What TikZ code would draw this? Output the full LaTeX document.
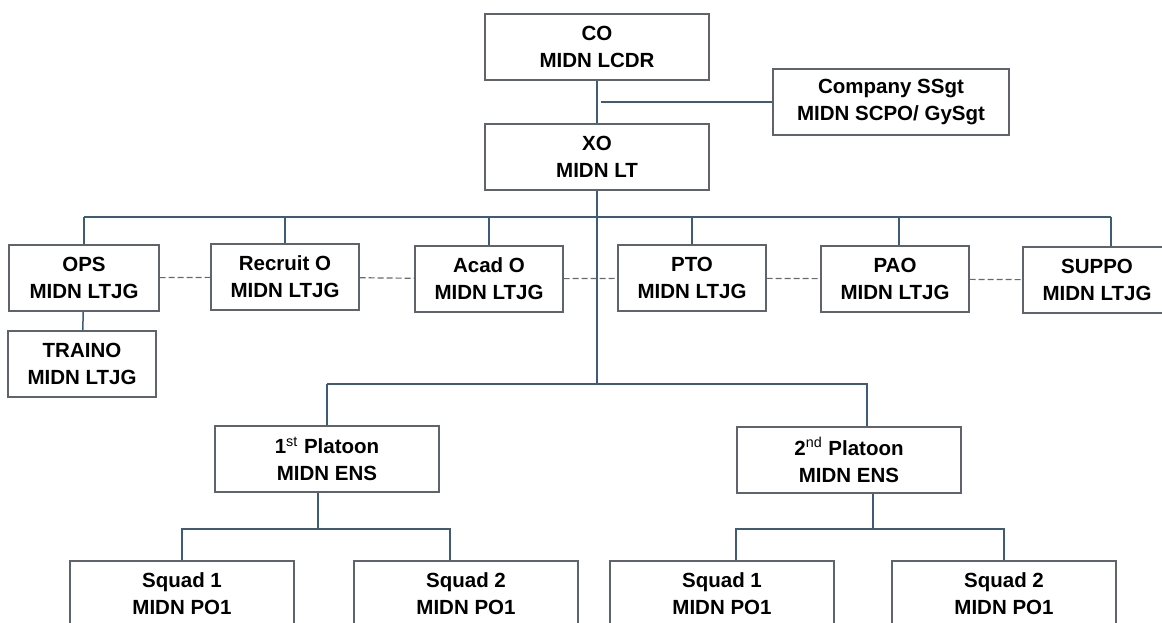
\documentclass[tikz,border=0pt]{standalone}
\usepackage{fontspec}
\setmainfont{Liberation Sans}
\usetikzlibrary{positioning,calc}

\definecolor{linkblue}{RGB}{62,92,118}
\definecolor{boxgray}{RGB}{95,100,108}
\definecolor{dashgray}{RGB}{105,105,105}

\tikzset{
  post/.style={draw=boxgray, line width=0.6pt, fill=white, align=center,
    inner sep=0pt, minimum width=74pt, minimum height=33pt,
    font=\bfseries\fontsize{10.25}{13.5}\selectfont},
  widepost/.style={post, minimum width=112pt},
  link/.style={draw=linkblue, line width=0.75pt},
  peer/.style={draw=dashgray, line width=0.6pt, dash pattern=on 3pt off 1.5pt}
}

\newcommand{\ordinal}[1]{\textsuperscript{\mdseries #1}}

\begin{document}
\begin{tikzpicture}[x=0.5pt, y=-0.5pt]

    \useasboundingbox (0,0) rectangle (1162,622);
    \clip (0,0) rectangle (1162,622);

    % command
    \node [widepost] (co) at (597,47) {CO\\MIDN LCDR};
    \node [widepost, minimum width=118pt] (ssgt) at (891,102) {Company SSgt\\MIDN SCPO/ GySgt};
    \node [widepost] (xo) at (597,157) {XO\\MIDN LT};

    % staff row
    \node [post, minimum width=75pt] (ops) at (84,278) {OPS\\MIDN LTJG};
    \node [post] (recruit) at (285,277) {Recruit O\\MIDN LTJG};
    \node [post] (acad) at (489,279) {Acad O\\MIDN LTJG};
    \node [post] (pto) at (692,278) {PTO\\MIDN LTJG};
    \node [post] (pao) at (895,279) {PAO\\MIDN LTJG};
    \node [post] (suppo) at (1097,280) {SUPPO\\MIDN LTJG};
    \node [post] (traino) at (82,364) {TRAINO\\MIDN LTJG};

    % platoons and squads
    \node [widepost] (plt1) at (327,459) {1\ordinal{st} Platoon\\MIDN ENS};
    \node [widepost] (plt2) at (849,460) {2\ordinal{nd} Platoon\\MIDN ENS};
    \node [widepost] (sq11) at (182,594) {Squad 1\\MIDN PO1};
    \node [widepost] (sq12) at (466,594) {Squad 2\\MIDN PO1};
    \node [widepost] (sq21) at (722,594) {Squad 1\\MIDN PO1};
    \node [widepost] (sq22) at (1004,594) {Squad 2\\MIDN PO1};

    \coordinate (staffbus) at (597,217);
    \coordinate (pltbus) at (597,384);
    \coordinate (sqbus1) at (318,529);
    \coordinate (sqbus2) at (873,529);

    \draw [link] (co) -- (xo);
    \draw [link] (ssgt.west) -- ([xshift=2pt]ssgt.west -| co.south);
    \draw [link] (xo.south) -- (pltbus);

    \draw [link] (ops.north |- staffbus) -- ([xshift=7pt]suppo.north |- staffbus);
    \foreach \s in {ops, recruit, acad, pto}
      \draw [link] (\s.north |- staffbus) -- (\s.north);
    \draw [link] ([xshift=2pt]pao.north |- staffbus) -- ([xshift=2pt]pao.north);
    \draw [link] ([xshift=7pt]suppo.north |- staffbus) -- ([xshift=7pt]suppo.north);
    \draw [link] (ops) -- (traino);

    \draw [peer] (ops) -- (recruit);
    \draw [peer] (recruit) -- (acad);
    \draw [peer] (acad) -- (pto);
    \draw [peer] (pto) -- (pao);
    \draw [peer] (pao) -- (suppo);

    \draw [link] (plt1.north |- pltbus) -- ([xshift=9pt]plt2.north |- pltbus)
      -- ([xshift=9pt]plt2.north);
    \draw [link] (plt1.north |- pltbus) -- (plt1.north);

    \draw [link] (plt1.south -| sqbus1) -- (sqbus1);
    \draw [link] (sq11.north) -- (sq11.north |- sqbus1)
      -- ([xshift=-8pt]sq12.north |- sqbus1) -- ([xshift=-8pt]sq12.north);
    \draw [link] (plt2.south -| sqbus2) -- (sqbus2);
    \draw [link] ([xshift=7pt]sq21.north) -- ([xshift=7pt]sq21.north |- sqbus2)
      -- (sq22.north |- sqbus2) -- (sq22.north);

\end{tikzpicture}
\end{document}
